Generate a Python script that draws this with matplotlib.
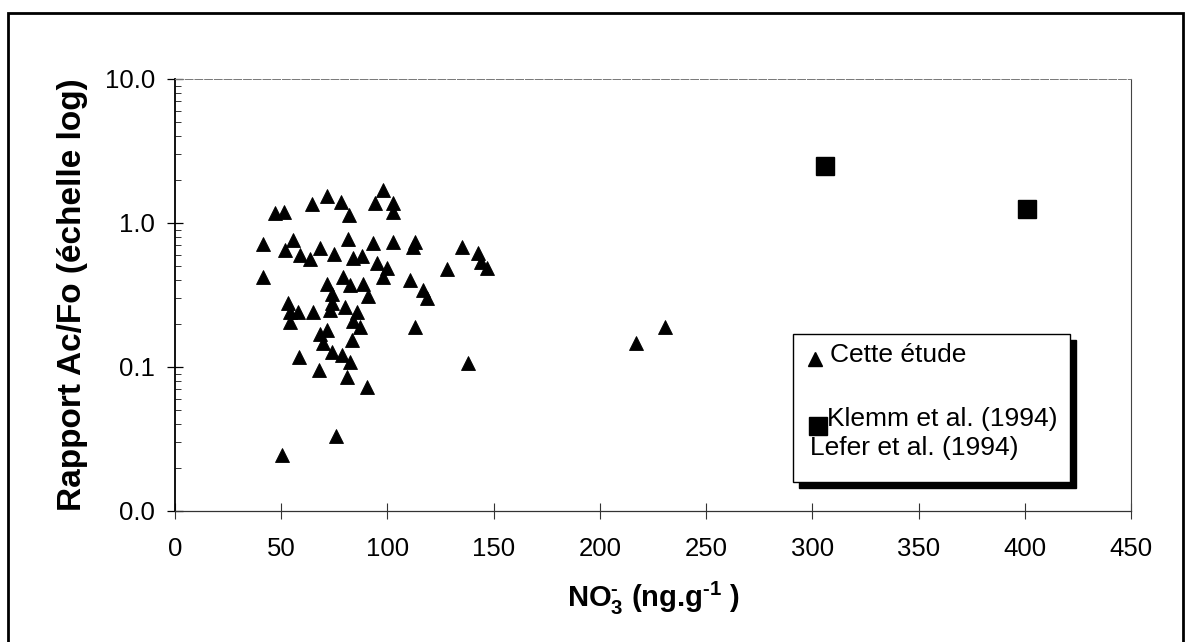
import matplotlib
matplotlib.use('Agg')
import matplotlib.pyplot as plt
import matplotlib.ticker as mticker
from matplotlib.patches import Rectangle
from matplotlib.lines import Line2D

# ---------------- data ----------------
nitrate_this_study = [47.1, 51.3, 64.5, 71.5, 78.1, 81.9, 97.9, 94.1, 102.6, 102.6,
                      41.4, 51.8, 55.5, 58.8, 63.5, 68.2, 74.8, 81.4, 83.8, 88.0,
                      93.2, 102.6, 112.9, 112.0, 135.1, 142.6, 144.0, 146.8, 128.0, 95.1,
                      99.8, 97.9, 110.6, 116.7, 118.6, 41.4, 71.5, 79.1, 82.4, 88.5,
                      90.8, 73.9, 73.9, 53.2, 54.1, 57.9, 64.9, 72.9, 80.0, 85.6,
                      54.1, 83.8, 87.1, 68.2, 71.5, 69.6, 73.9, 78.6, 82.4, 83.3,
                      80.9, 90.4, 58.4, 67.8, 75.8, 50.4, 112.9, 137.9, 216.9, 230.6]
ratio_this_study = [1.17, 1.19, 1.36, 1.54, 1.40, 1.14, 1.69, 1.38, 1.38, 1.19,
                    0.71, 0.65, 0.76, 0.60, 0.56, 0.67, 0.61, 0.77, 0.57, 0.59,
                    0.73, 0.74, 0.74, 0.68, 0.68, 0.62, 0.54, 0.49, 0.48, 0.53,
                    0.49, 0.42, 0.40, 0.34, 0.30, 0.42, 0.38, 0.42, 0.37, 0.38,
                    0.31, 0.32, 0.28, 0.28, 0.24, 0.24, 0.24, 0.25, 0.26, 0.24,
                    0.205, 0.21, 0.19, 0.17, 0.18, 0.147, 0.127, 0.121, 0.108, 0.154,
                    0.085, 0.073, 0.117, 0.095, 0.033, 0.0245, 0.19, 0.107, 0.147, 0.19]
nitrate_literature = [306, 401]
ratio_literature = [2.49, 1.25]

x_ticks = [0, 50, 100, 150, 200, 250, 300, 350, 400, 450]
y_ticks = [0.01, 0.1, 1.0, 10.0]
y_tick_labels = ["0.0", "0.1", "1.0", "10.0"]
legend_labels = ["Cette étude", "Klemm et al. (1994)", "Lefer et al. (1994)"]
x_label = r'NO$_3^{\text{-}}$ (ng.g$^{\text{-}1}$ )'
y_label = "Rapport Ac/Fo (échelle log)"

# ---------------- style ----------------
plt.rcParams['font.family'] = ['Liberation Sans', 'DejaVu Sans']
plt.rcParams['mathtext.fontset'] = 'custom'
plt.rcParams['mathtext.rm'] = 'Liberation Sans:bold'
plt.rcParams['mathtext.bf'] = 'Liberation Sans:bold'
plt.rcParams['mathtext.it'] = 'Liberation Sans:bold'
plt.rcParams['mathtext.default'] = 'bf'

W, H = 1190, 642
fig = plt.figure(figsize=(W / 100, H / 100), dpi=100)

# outer frame of the figure
fig.add_artist(Rectangle((8 / W, -0.02), (1183 - 8) / W, 1.02 - 13 / H,
                         transform=fig.transFigure, fill=False,
                         edgecolor='black', linewidth=2.0))

ax_l, ax_r, ax_t, ax_b = 175, 1131, 79, 511
ax = fig.add_axes([ax_l / W, 1 - ax_b / H, (ax_r - ax_l) / W, (ax_b - ax_t) / H])

ax.plot(nitrate_this_study, ratio_this_study, linestyle='none', marker='^',
        markersize=10.5, markeredgewidth=0.6, color='black', clip_on=False)
ax.plot(nitrate_literature, ratio_literature, linestyle='none', marker='s',
        markersize=13.5, color='black', clip_on=False)

ax.set_yscale('log')
ax.set_xlim(0, 450)
ax.set_ylim(0.01, 10)
ax.set_xticks(x_ticks)
ax.set_xticklabels([str(v) for v in x_ticks])
ax.set_yticks(y_ticks)
ax.set_yticklabels(y_tick_labels)
ax.yaxis.set_minor_locator(mticker.LogLocator(base=10, subs=range(2, 10)))
ax.yaxis.set_minor_formatter(mticker.NullFormatter())

ax.tick_params(axis='x', which='major', direction='inout', length=12, width=0.8,
               color='#333333', labelsize=18.5, pad=13)
ax.tick_params(axis='y', which='major', direction='inout', length=11, width=0.9,
               color='black', labelsize=18.5, pad=9)
ax.tick_params(axis='y', which='minor', direction='in', length=4, width=0.7,
               color='#333333')

ax.spines['left'].set_linewidth(1.3)
ax.spines['bottom'].set_linewidth(0.9)
ax.spines['bottom'].set_color('#333333')
ax.spines['top'].set_linewidth(0.7)
ax.spines['top'].set_color('#777777')
ax.spines['top'].set_linestyle((0, (8, 2)))
ax.spines['right'].set_linewidth(0.8)
ax.spines['right'].set_color('#444444')

ax.set_ylabel(y_label, fontsize=24, fontweight='bold', labelpad=12)
ax.set_xlabel(x_label, fontsize=21, fontweight='bold', labelpad=13)

# ---------------- legend box (drawn manually to match layout) ----------------
def ax_frac(px, py):
    return ((px - ax_l) / (ax_r - ax_l), (ax_b - py) / (ax_b - ax_t))

bx0, by0 = ax_frac(793, 482)
bx1, by1 = ax_frac(1070, 334)
sx, sy = 6 / (ax_r - ax_l), 6 / (ax_b - ax_t)
ax.add_patch(Rectangle((bx0 + sx, by0 - sy), bx1 - bx0, by1 - by0,
                       transform=ax.transAxes, facecolor='black',
                       edgecolor='black', zorder=5, clip_on=False))
ax.add_patch(Rectangle((bx0, by0), bx1 - bx0, by1 - by0,
                       transform=ax.transAxes, facecolor='white',
                       edgecolor='black', linewidth=1.0, zorder=6, clip_on=False))

tx, ty = ax_frac(815, 359)
ax.add_artist(Line2D([tx], [ty], marker='^', markersize=10.5, color='black',
                     linestyle='none', transform=ax.transAxes, zorder=7))
x, y = ax_frac(830, 355)
ax.text(x, y, legend_labels[0], transform=ax.transAxes, fontsize=19,
        va='center', ha='left', zorder=7)
sqx, sqy = ax_frac(818, 426)
ax.add_artist(Line2D([sqx], [sqy], marker='s', markersize=13.5, color='black',
                     linestyle='none', transform=ax.transAxes, zorder=7))
x, y = ax_frac(827, 419)
ax.text(x, y, legend_labels[1], transform=ax.transAxes, fontsize=19,
        va='center', ha='left', zorder=7)
x, y = ax_frac(810, 448)
ax.text(x, y, legend_labels[2], transform=ax.transAxes, fontsize=19,
        va='center', ha='left', zorder=7)

fig.savefig('out.png', dpi=100)
